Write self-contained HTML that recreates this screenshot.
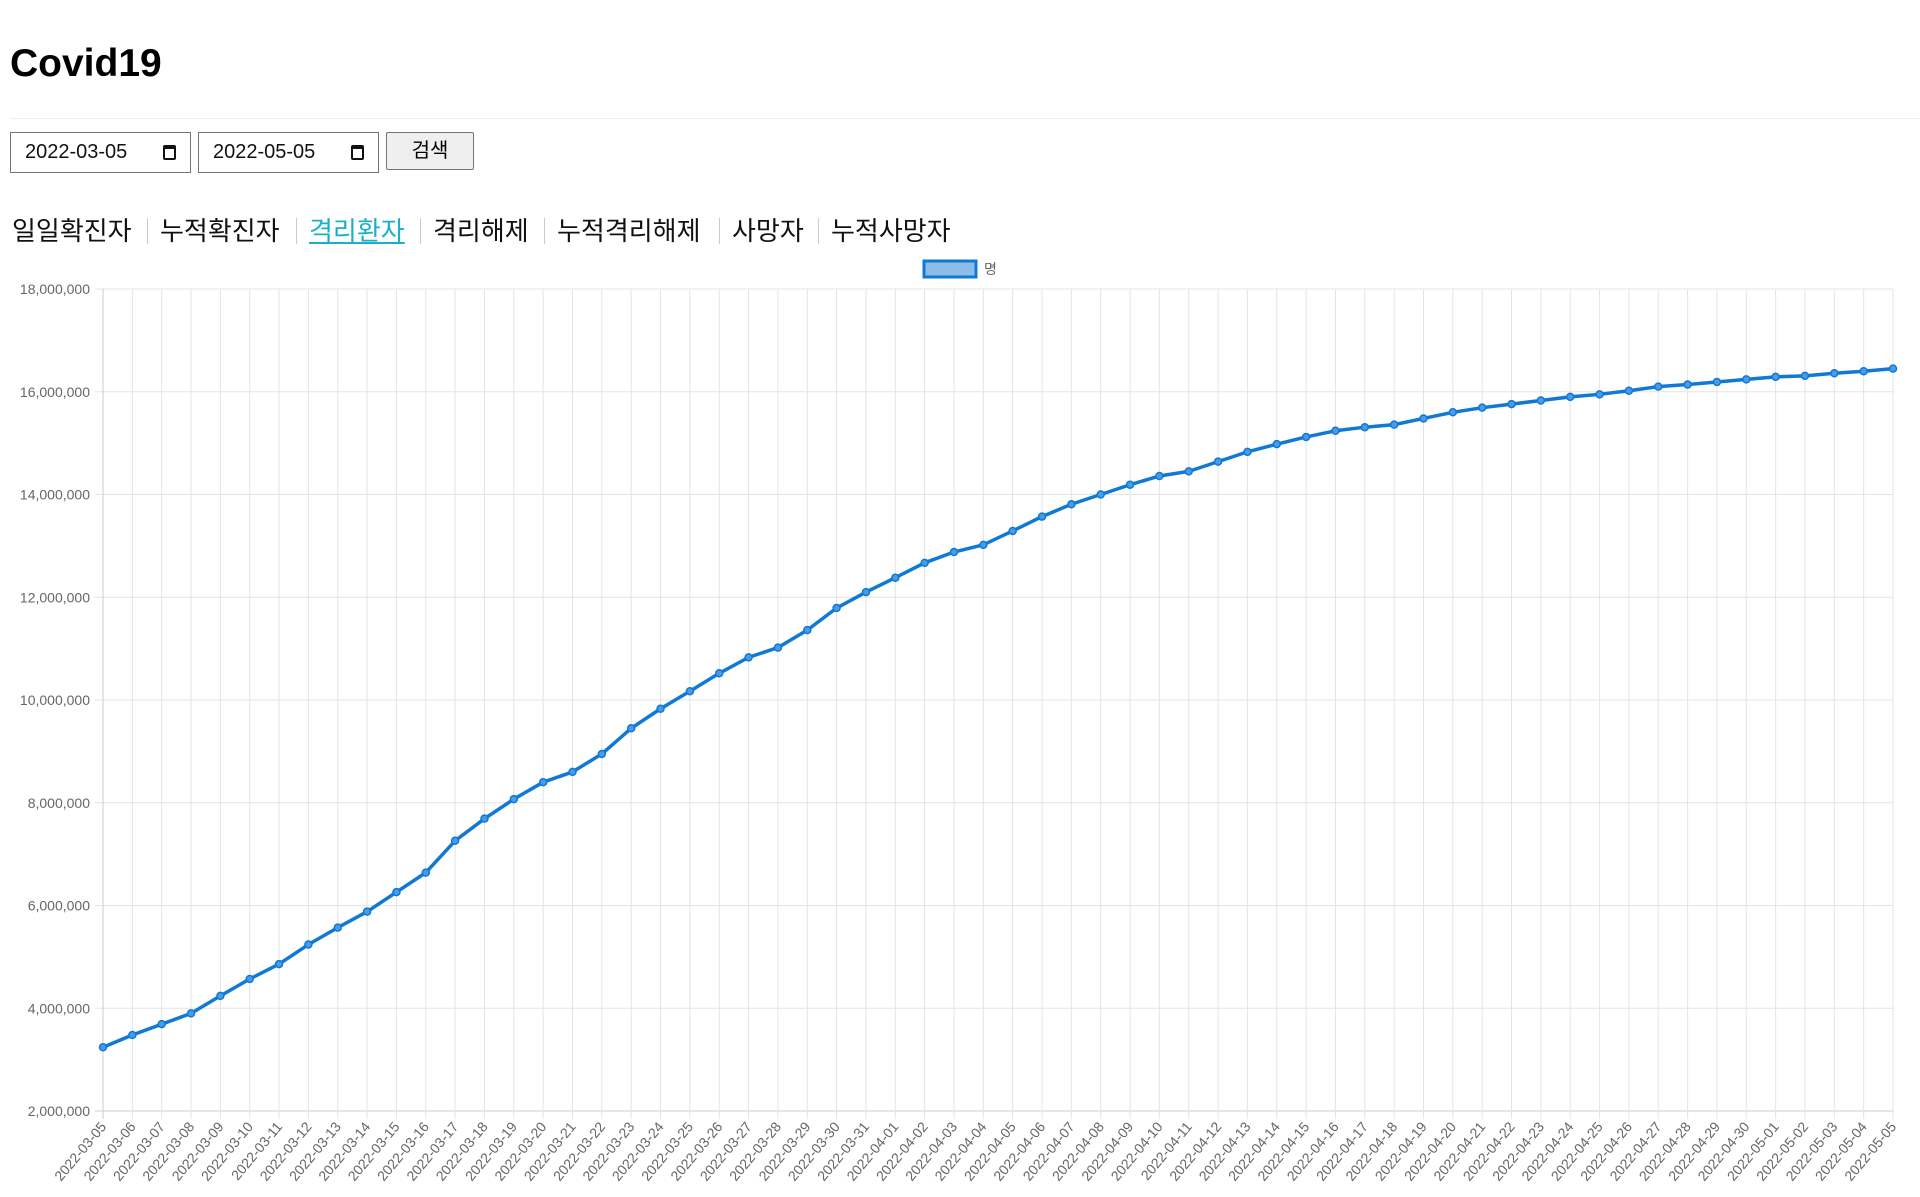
<!DOCTYPE html>
<html><head><meta charset="utf-8"><style>
body{margin:0;background:#fff;font-family:"Liberation Sans","Noto Sans CJK KR",sans-serif;width:1920px;height:1197px;overflow:hidden;position:relative}
.abs{position:absolute}
h1{position:absolute;left:10px;top:42px;margin:0;font-size:39px;font-weight:bold;color:#000}
.inp{position:absolute;top:132px;height:41px;border:1px solid #767676;box-sizing:border-box;font-size:20px;color:#111;padding-left:14px;line-height:39px}
.inp .cal{position:absolute;right:14px;top:12px;width:13px;height:15px;border:2px solid #111;border-top-width:4px;box-sizing:border-box;border-radius:2px}
.btn{position:absolute;left:386px;top:132px;width:88px;height:38px;background:#efefef;border:1px solid #767676;box-sizing:border-box;border-radius:2px;font-size:20px;text-align:center;line-height:36px}
.tab{position:absolute;top:211px;font-size:26px;color:#111;white-space:nowrap}
.sep{position:absolute;top:218px;width:1px;height:26px;background:#ccc}
</style></head><body>
<h1>Covid19</h1>
<div class="abs" style="left:10px;top:118px;width:1910px;height:1px;background:#eee"></div>
<div class="inp" style="left:10px;width:181px">2022-03-05<span class="cal"></span></div>
<div class="inp" style="left:198px;width:181px">2022-05-05<span class="cal"></span></div>
<div class="btn">검색</div>
<span class="tab" style="left:12px">일일확진자</span>
<div class="sep" style="left:147px"></div>
<span class="tab" style="left:160px">누적확진자</span>
<div class="sep" style="left:296px"></div>
<span class="tab" style="left:309px;color:#1ab0c8;text-decoration:underline">격리환자</span>
<div class="sep" style="left:420px"></div>
<span class="tab" style="left:433px">격리해제</span>
<div class="sep" style="left:544px"></div>
<span class="tab" style="left:557px">누적격리해제</span>
<div class="sep" style="left:719px"></div>
<span class="tab" style="left:732px">사망자</span>
<div class="sep" style="left:818px"></div>
<span class="tab" style="left:831px">누적사망자</span>
<svg id="chart" class="abs" style="left:0;top:0" width="1920" height="1197"></svg>
<script>
const dates=["2022-03-05","2022-03-06","2022-03-07","2022-03-08","2022-03-09","2022-03-10","2022-03-11","2022-03-12","2022-03-13","2022-03-14","2022-03-15","2022-03-16","2022-03-17","2022-03-18","2022-03-19","2022-03-20","2022-03-21","2022-03-22","2022-03-23","2022-03-24","2022-03-25","2022-03-26","2022-03-27","2022-03-28","2022-03-29","2022-03-30","2022-03-31","2022-04-01","2022-04-02","2022-04-03","2022-04-04","2022-04-05","2022-04-06","2022-04-07","2022-04-08","2022-04-09","2022-04-10","2022-04-11","2022-04-12","2022-04-13","2022-04-14","2022-04-15","2022-04-16","2022-04-17","2022-04-18","2022-04-19","2022-04-20","2022-04-21","2022-04-22","2022-04-23","2022-04-24","2022-04-25","2022-04-26","2022-04-27","2022-04-28","2022-04-29","2022-04-30","2022-05-01","2022-05-02","2022-05-03","2022-05-04","2022-05-05"];
const values=[3.24,3.48,3.69,3.90,4.24,4.57,4.86,5.24,5.57,5.88,6.26,6.64,7.26,7.69,8.07,8.40,8.60,8.95,9.45,9.83,10.17,10.52,10.83,11.02,11.36,11.79,12.10,12.38,12.67,12.88,13.02,13.29,13.57,13.81,14.00,14.19,14.36,14.45,14.64,14.83,14.98,15.12,15.24,15.31,15.36,15.48,15.60,15.69,15.76,15.83,15.90,15.95,16.02,16.10,16.14,16.19,16.24,16.29,16.31,16.36,16.40,16.45].map(v=>v*1e6);
const yTicks=[2e6,4e6,6e6,8e6,10e6,12e6,14e6,16e6,18e6];
const L=103,R=1893,T=289,B=1111,yMin=2e6,yMax=18e6;
const svg=document.getElementById('chart');
const NS='http://www.w3.org/2000/svg';
const xs=i=>L+(R-L)*i/(dates.length-1);
const ys=v=>B-(B-T)*(v-yMin)/(yMax-yMin);
function mk(t,a){const e=document.createElementNS(NS,t);for(const k in a)e.setAttribute(k,a[k]);svg.appendChild(e);return e;}
yTicks.forEach(v=>{
  const g=mk('line',{x1:L-8,x2:R,y1:ys(v),y2:ys(v),stroke:v===yMin?'#ccc':'#e4e4e4','stroke-width':1});
  
  
  const t=mk('text',{x:L-13,y:ys(v)+5,'text-anchor':'end','font-size':14,fill:'#666','font-family':'Liberation Sans,sans-serif'});
  t.textContent=v.toLocaleString('en-US');
  
  
});
dates.forEach((d,i)=>{
  const x=xs(i);
  const g=mk('line',{x1:x,x2:x,y1:T,y2:B+8,stroke:i===0?'#ccc':'#e4e4e4','stroke-width':1});
  
  
  const t=mk('text',{x:x+4,y:B+16,'text-anchor':'end','font-size':14,fill:'#666','font-family':'Liberation Sans,sans-serif',transform:`rotate(-50 ${x+4} ${B+16})`});
  t.textContent=d;
  
  
});
const line=mk('polyline',{points:values.map((v,i)=>xs(i)+','+ys(v)).join(' '),fill:'none',stroke:'#1079d6','stroke-width':3.5,'stroke-linejoin':'round'});


values.forEach((v,i)=>{
  const c=mk('circle',{cx:xs(i),cy:ys(v),r:3.5,fill:'#4a9be6',stroke:'#1079d6','stroke-width':1.5});
  
  
});
const lb=mk('rect',{x:924,y:261,width:52,height:16,fill:'#8cbde9',stroke:'#1079d6','stroke-width':3});


const lt=mk('text',{x:984,y:274,'font-size':14,fill:'#666','font-family':'Liberation Sans,Noto Sans CJK KR,sans-serif'});
lt.textContent='명';


</script>
</body></html>
